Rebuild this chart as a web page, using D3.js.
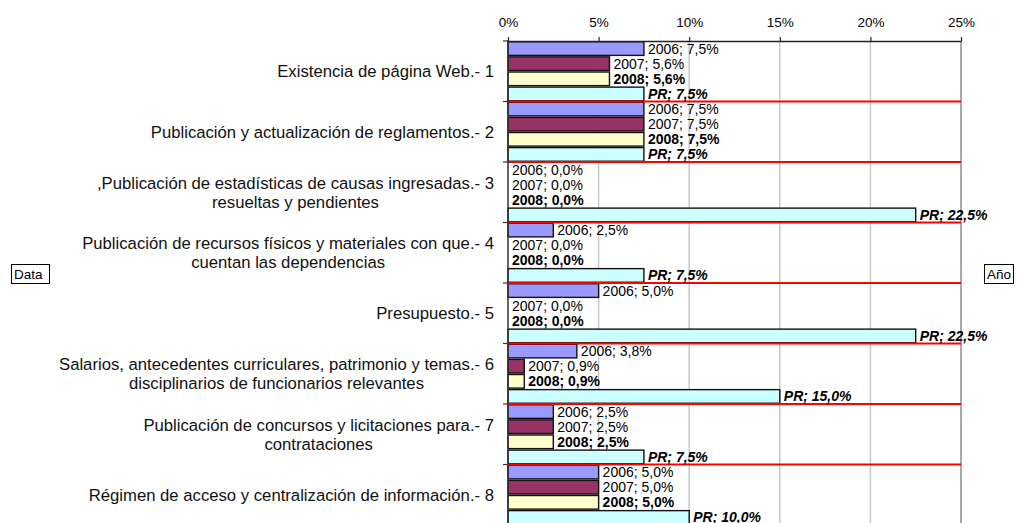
<!DOCTYPE html>
<html>
<head>
<meta charset="utf-8">
<script src="https://cdn.jsdelivr.net/npm/d3@7"></script>
<style>
  html, body { margin: 0; padding: 0; background: #fff; }
  svg { display: block; font-family: "Liberation Sans", Arial, sans-serif; }
</style>
</head>
<body>
<svg id="chart" width="1018" height="523"></svg>
<script>
// ---- data ----
const categories = [
  ["Existencia de página Web.- 1"],
  ["Publicación y actualización de reglamentos.- 2"],
  [",Publicación de estadísticas de causas ingresadas.- 3", "resueltas y pendientes"],
  ["Publicación de recursos físicos y materiales con que.- 4", "cuentan las dependencias"],
  ["Presupuesto.- 5"],
  ["Salarios, antecedentes curriculares, patrimonio y temas.- 6", "disciplinarios de funcionarios relevantes"],
  ["Publicación de concursos y licitaciones para.- 7", "contrataciones"],
  ["Régimen de acceso y centralización de información.- 8"]
];
const seriesNames = ["2006", "2007", "2008", "PR"];
const values2006 = [7.5, 7.5, 0.0, 2.5, 5.0, 3.8, 2.5, 5.0];
const values2007 = [5.6, 7.5, 0.0, 0.0, 0.0, 0.9, 2.5, 5.0];
const values2008 = [5.6, 7.5, 0.0, 0.0, 0.0, 0.9, 2.5, 5.0];
const valuesPR   = [7.5, 7.5, 22.5, 7.5, 22.5, 15.0, 7.5, 10.0];
const tickValues = [0, 5, 10, 15, 20, 25];
const tickLabels = ["0%", "5%", "10%", "15%", "20%", "25%"];
const seriesColors = ["#9999FF", "#993366", "#FFFFCC", "#CCFFFF"];
const seriesWeight = ["normal", "normal", "bold", "bold"];
const seriesStyle = ["normal", "normal", "normal", "italic"];

const seriesValues = [values2006, values2007, values2008, valuesPR];

// ---- layout ----
const svg = d3.select("#chart");
const plotLeft = 508, plotRight = 961, plotTop = 41, groupH = 60.5;
const x = d3.scaleLinear().domain([0, 25]).range([plotLeft, plotRight]);
const y = d3.scaleBand().domain(d3.range(categories.length)).range([plotTop, plotTop + groupH * categories.length]).padding(0);
const yb = d3.scaleBand().domain(seriesNames).range([0, y.bandwidth()]).padding(0);
const fmt = v => d3.format(".1f")(v).replace(".", ",") + "%";

// gridlines
svg.append("g").selectAll("line").data(tickValues.filter(t => t > 0 && t < 25)).join("line")
  .attr("x1", d => x(d)).attr("x2", d => x(d))
  .attr("y1", plotTop).attr("y2", 523)
  .attr("stroke", "#c8c8c8").attr("stroke-width", 1.5);
// right border
svg.append("line").attr("x1", x(25)).attr("x2", x(25)).attr("y1", plotTop).attr("y2", 523)
  .attr("stroke", "#8c8c8c").attr("stroke-width", 1.5);

// bars
const flat = [];
categories.forEach((c, i) => seriesNames.forEach((s, j) => flat.push({ i, j, s, v: seriesValues[j][i] })));

svg.append("g").selectAll("rect").data(flat.filter(d => d.v > 0)).join("rect")
  .attr("x", x(0))
  .attr("y", d => y(d.i) + yb(d.s) + 0.75)
  .attr("width", d => x(d.v) - x(0))
  .attr("height", yb.bandwidth() - 1.5)
  .attr("fill", d => seriesColors[d.j])
  .attr("stroke", "#111").attr("stroke-width", 1.4);

// red separators
svg.append("g").selectAll("line").data(d3.range(categories.length)).join("line")
  .attr("x1", x(0)).attr("x2", x(25))
  .attr("y1", d => y(d) + y.bandwidth()).attr("y2", d => y(d) + y.bandwidth())
  .attr("stroke", "#FF0000").attr("stroke-width", 2);

// data labels
svg.append("g").selectAll("text").data(flat).join("text")
  .attr("x", d => x(d.v) + 4)
  .attr("y", d => y(d.i) + yb(d.s) + yb.bandwidth() / 2 + 5)
  .attr("font-size", 14)
  .attr("font-weight", d => seriesWeight[d.j])
  .attr("font-style", d => seriesStyle[d.j])
  .attr("fill", "#000")
  .text(d => d.s + "; " + fmt(d.v));

// axes
const xAxis = d3.axisTop(x).tickValues(tickValues).tickFormat((d, i) => tickLabels[i]).tickSize(4).tickSizeOuter(0);
const gx = svg.append("g").attr("transform", `translate(0,${plotTop})`).call(xAxis);
gx.select(".domain").attr("stroke", "#222").attr("stroke-width", 1.5);
gx.selectAll(".tick line").attr("stroke", "#222").attr("stroke-width", 1.2);
gx.selectAll(".tick text").attr("font-size", 13.5).attr("fill", "#000").attr("font-family", "Liberation Sans, Arial, sans-serif").attr("dy", "-7");

// left axis
svg.append("line").attr("x1", plotLeft).attr("x2", plotLeft).attr("y1", plotTop - 0.75).attr("y2", 523)
  .attr("stroke", "#333").attr("stroke-width", 1.5);
svg.append("g").selectAll("line").data(d3.range(categories.length)).join("line")
  .attr("x1", plotLeft - 5).attr("x2", plotLeft)
  .attr("y1", d => y(d)).attr("y2", d => y(d))
  .attr("stroke", "#333").attr("stroke-width", 1.2);

// category labels
const labelRight = 494, lineH = 19, catFont = 16.7;
const cg = svg.append("g").selectAll("g").data(categories).join("g");
cg.each(function (lines, i) {
  const g = d3.select(this);
  const cy = y(i) + y.bandwidth() / 2;
  const y0 = cy - (lines.length - 1) * lineH / 2;
  const t1 = g.append("text").attr("x", labelRight).attr("y", y0 + 6)
    .attr("text-anchor", "end").attr("font-size", catFont).attr("fill", "#111").text(lines[0]);
  const w1 = t1.node().getComputedTextLength();
  const center = labelRight - w1 / 2;
  for (let k = 1; k < lines.length; k++) {
    g.append("text").attr("x", center).attr("y", y0 + k * lineH + 6)
      .attr("text-anchor", "middle").attr("font-size", catFont).attr("fill", "#111").text(lines[k]);
  }
});

// field buttons
function fieldButton(label, bx, by, bw, bh) {
  svg.append("rect").attr("x", bx + 0.5).attr("y", by + 0.5).attr("width", bw).attr("height", bh)
    .attr("fill", "#fff").attr("stroke", "#000").attr("stroke-width", 1);
  svg.append("text").attr("x", bx + 3).attr("y", by + bh / 2 + 5).attr("font-size", 13.5).attr("fill", "#000").text(label);
}
fieldButton("Data", 11, 264, 38, 19);
fieldButton("Año", 984, 264, 29, 19);
</script>
</body>
</html>
